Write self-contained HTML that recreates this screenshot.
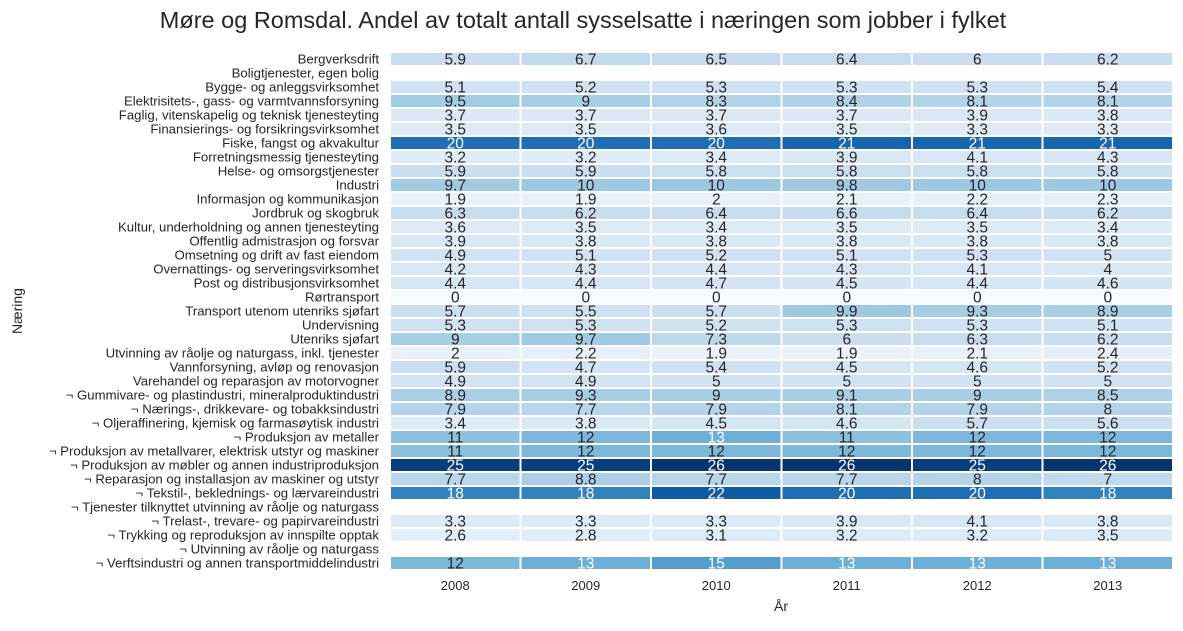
<!DOCTYPE html>
<html><head><meta charset="utf-8"><style>
body{margin:0;background:#fff;}
svg text{font-family:"Liberation Sans",Arial,sans-serif;}
</style></head><body>
<svg id="chart" width="1183" height="626" xmlns="http://www.w3.org/2000/svg">
<text x="583" y="28" text-anchor="middle" font-size="23.5" fill="#262626">Møre og Romsdal. Andel av totalt antall sysselsatte i næringen som jobber i fylket</text>
<text x="781" y="611" text-anchor="middle" font-size="14" fill="#262626">År</text>
<text x="22" y="311" text-anchor="middle" font-size="14" fill="#262626" transform="rotate(-90 22 311)">Næring</text>
<g id="cells"></g><g id="ylabels"></g><g id="xlabels"></g>
</svg>
<script>
const years=["2008","2009","2010","2011","2012","2013"];
const industries=["Bergverksdrift","Boligtjenester, egen bolig","Bygge- og anleggsvirksomhet","Elektrisitets-, gass- og varmtvannsforsyning","Faglig, vitenskapelig og teknisk tjenesteyting","Finansierings- og forsikringsvirksomhet","Fiske, fangst og akvakultur","Forretningsmessig tjenesteyting","Helse- og omsorgstjenester","Industri","Informasjon og kommunikasjon","Jordbruk og skogbruk","Kultur, underholdning og annen tjenesteyting","Offentlig admistrasjon og forsvar","Omsetning og drift av fast eiendom","Overnattings- og serveringsvirksomhet","Post og distribusjonsvirksomhet","Rørtransport","Transport utenom utenriks sjøfart","Undervisning","Utenriks sjøfart","Utvinning av råolje og naturgass, inkl. tjenester","Vannforsyning, avløp og renovasjon","Varehandel og reparasjon av motorvogner","¬ Gummivare- og plastindustri, mineralproduktindustri","¬ Nærings-, drikkevare- og tobakksindustri","¬ Oljeraffinering, kjemisk og farmasøytisk industri","¬ Produksjon av metaller","¬ Produksjon av metallvarer, elektrisk utstyr og maskiner","¬ Produksjon av møbler og annen industriproduksjon","¬ Reparasjon og installasjon av maskiner og utstyr","¬ Tekstil-, beklednings- og lærvareindustri","¬ Tjenester tilknyttet utvinning av råolje og naturgass","¬ Trelast-, trevare- og papirvareindustri","¬ Trykking og reproduksjon av innspilte opptak","¬ Utvinning av råolje og naturgass","¬ Verftsindustri og annen transportmiddelindustri"];
const values=[
[5.9,6.7,6.5,6.4,6,6.2],[null,null,null,null,null,null],[5.1,5.2,5.3,5.3,5.3,5.4],[9.5,9,8.3,8.4,8.1,8.1],
[3.7,3.7,3.7,3.7,3.9,3.8],[3.5,3.5,3.6,3.5,3.3,3.3],[20,20,20,21,21,21],[3.2,3.2,3.4,3.9,4.1,4.3],
[5.9,5.9,5.8,5.8,5.8,5.8],[9.7,10,10,9.8,10,10],[1.9,1.9,2,2.1,2.2,2.3],[6.3,6.2,6.4,6.6,6.4,6.2],
[3.6,3.5,3.4,3.5,3.5,3.4],[3.9,3.8,3.8,3.8,3.8,3.8],[4.9,5.1,5.2,5.1,5.3,5],[4.2,4.3,4.4,4.3,4.1,4],
[4.4,4.4,4.7,4.5,4.4,4.6],[0,0,0,0,0,0],[5.7,5.5,5.7,9.9,9.3,8.9],[5.3,5.3,5.2,5.3,5.3,5.1],
[9,9.7,7.3,6,6.3,6.2],[2,2.2,1.9,1.9,2.1,2.4],[5.9,4.7,5.4,4.5,4.6,5.2],[4.9,4.9,5,5,5,5],
[8.9,9.3,9,9.1,9,8.5],[7.9,7.7,7.9,8.1,7.9,8],[3.4,3.8,4.5,4.6,5.7,5.6],[11,12,13,11,12,12],
[11,12,12,12,12,12],[25,25,26,26,25,26],[7.7,8.8,7.7,7.7,8,7],[18,18,22,20,20,18],
[null,null,null,null,null,null],[3.3,3.3,3.3,3.9,4.1,3.8],[2.6,2.8,3.1,3.2,3.2,3.5],[null,null,null,null,null,null],
[12,13,15,13,13,13]];
const X0=390,X1=1173,Y0=52,Y1=570,VMAX=26.3;
const cw=(X1-X0)/years.length, rh=(Y1-Y0)/industries.length;
const xPos=i=>X0+i*cw, yPos=j=>Y0+j*rh;
const stops=[[247,251,255],[222,235,247],[198,219,239],[158,202,225],[107,174,214],[66,146,198],[33,113,181],[8,81,156],[8,48,107]];
function color(v){let t=Math.max(0,Math.min(1,v/VMAX))*(stops.length-1);let i=Math.min(Math.floor(t),stops.length-2),f=t-i;
return stops[i].map((c,k)=>Math.round(c+(stops[i+1][k]-c)*f));}
function lum(c){const l=c.map(x=>{x/=255;return x<=0.03928?x/12.92:Math.pow((x+0.055)/1.055,2.4)});return 0.2126*l[0]+0.7152*l[1]+0.0722*l[2];}
const NS="http://www.w3.org/2000/svg";
const cells=document.getElementById('cells'),yl=document.getElementById('ylabels'),xl=document.getElementById('xlabels');
values.forEach((row,j)=>{row.forEach((v,i)=>{if(v===null)return;const c=color(v);
const r=document.createElementNS(NS,'rect');


r.setAttribute('x',xPos(i));r.setAttribute('y',yPos(j));r.setAttribute('width',cw);r.setAttribute('height',rh);
r.setAttribute('fill','rgb('+c.join(',')+')');r.setAttribute('stroke','#fff');r.setAttribute('stroke-width','2');cells.appendChild(r);
const t=document.createElementNS(NS,'text');


t.setAttribute('x',xPos(i)+cw/2);t.setAttribute('y',yPos(j)+rh/2+5.5);t.setAttribute('text-anchor','middle');t.setAttribute('font-size','15.5');
t.setAttribute('fill',lum(c)<0.408?'#fff':'#262626');t.textContent=String(v);cells.appendChild(t);});
const lt=document.createElementNS(NS,'text');


lt.setAttribute('x',379);lt.setAttribute('y',yPos(j)+rh/2+4.5);lt.setAttribute('text-anchor','end');lt.setAttribute('font-size','13.2');lt.setAttribute('fill','#262626');lt.textContent=industries[j];yl.appendChild(lt);});
years.forEach((y,i)=>{const t=document.createElementNS(NS,'text');


t.setAttribute('x',xPos(i)+cw/2);t.setAttribute('y',590);t.setAttribute('text-anchor','middle');t.setAttribute('font-size','13');t.setAttribute('fill','#262626');t.textContent=y;xl.appendChild(t);});
</script>
</body></html>
